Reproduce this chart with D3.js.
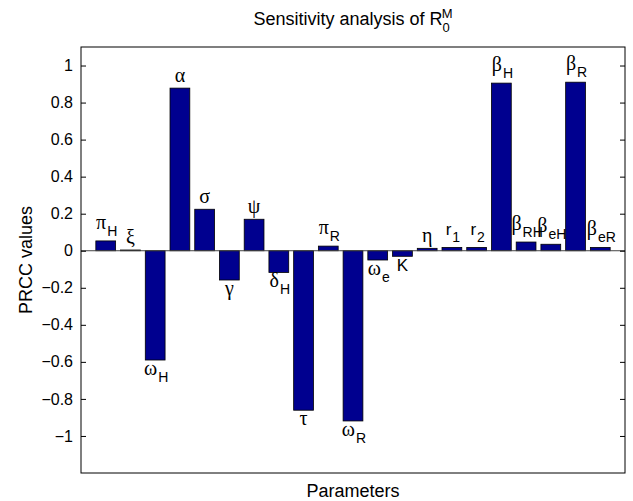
<!DOCTYPE html>
<html>
<head>
<meta charset="utf-8">
<script src="https://cdn.jsdelivr.net/npm/d3@7"></script>
<style>
  body { margin: 0; background: #fff; }
  text { font-family: "Liberation Sans", Arial, sans-serif; }
</style>
</head>
<body>
<div id="chart"></div>
<script>
// parameter symbols and subscripts
const symbols = ['π','ξ','ω','α','σ','γ','ψ','δ','τ','π','ω','ω','K','η','r','r','β','β','β','β','β'];
const subs    = ['H','','H','','','','','H','','R','R','e','','','1','2','H','RH','eH','R','eR'];
// PRCC values
const prcc = [0.053, 0.004, -0.59, 0.878, 0.224, -0.158, 0.17, -0.117, -0.861, 0.025, -0.919,
              -0.05, -0.03, 0.013, 0.018, 0.018, 0.905, 0.047, 0.035, 0.91, 0.018];
const yTicks = [-1, -0.8, -0.6, -0.4, -0.2, 0, 0.2, 0.4, 0.6, 0.8, 1];

var width = 633, height = 501;
var axLeft = 81, axRight = 625, axTop = 47, axBottom = 473;

var svg = d3.select('#chart').append('svg')
    .attr('width', width)
    .attr('height', height);

var xScale = d3.scaleLinear().domain([0, prcc.length + 1]).range([axLeft, axRight]);
var yScale = d3.scaleLinear().domain([-1.2, 1.1]).range([axBottom, axTop]);
var barW = (xScale(1) - xScale(0)) * 0.8;

// bars
svg.selectAll('rect.bar')
    .data(prcc)
    .enter().append('rect')
    .attr('class', 'bar')
    .attr('x', (d, i) => xScale(i + 1) - barW / 2)
    .attr('width', barW)
    .attr('y', d => yScale(Math.max(d, 0)))
    .attr('height', d => Math.abs(yScale(d) - yScale(0)))
    .attr('fill', '#00008f')
    .attr('stroke', '#000')
    .attr('stroke-width', 0.8);

// baseline
svg.append('line')
    .attr('x1', axLeft).attr('x2', axRight)
    .attr('y1', yScale(0)).attr('y2', yScale(0))
    .attr('stroke', '#444').attr('stroke-width', 1);

// axes (ticks inside the box, on both sides)
svg.append('g')
    .attr('transform', `translate(${axLeft},0)`)
    .call(d3.axisRight(yScale).tickValues(yTicks).tickSize(5).tickFormat(''))
    .call(g => g.select('.domain').remove());
svg.append('g')
    .attr('transform', `translate(${axRight},0)`)
    .call(d3.axisLeft(yScale).tickValues(yTicks).tickSize(5).tickFormat(''))
    .call(g => g.select('.domain').remove());

svg.selectAll('.tick line').attr('stroke', '#000');

svg.selectAll('text.ytick')
    .data(yTicks)
    .enter().append('text')
    .attr('class', 'ytick')
    .attr('x', axLeft - 8)
    .attr('y', d => yScale(d))
    .attr('dy', '0.35em')
    .attr('text-anchor', 'end')
    .style('font-size', '16px')
    .text(d => d3.format('')(d).replace('-', '\u2212'));

svg.append('rect')
    .attr('x', axLeft).attr('y', axTop)
    .attr('width', axRight - axLeft).attr('height', axBottom - axTop)
    .attr('fill', 'none')
    .attr('stroke', '#000')
    .attr('stroke-width', 1);

// parameter labels above / below each bar
var labels = svg.selectAll('text.plabel')
    .data(prcc)
    .enter().append('text')
    .attr('class', 'plabel')
    .attr('x', (d, i) => xScale(i + 1) + (subs[i] ? 1 : 0))
    .attr('y', (d, i) => d >= 0 ? yScale(d) - (subs[i] ? 12 : 6) : yScale(d) + 15)
    .attr('text-anchor', 'middle');

labels.append('tspan')
    .style('font-family', (d, i) => /[a-zA-Z]/.test(symbols[i]) ? '"Liberation Sans", Arial, sans-serif' : '"Liberation Serif", "Times New Roman", serif')
    .style('font-size', (d, i) => /[a-zA-Z]/.test(symbols[i]) ? '17px' : '20px')
    .text((d, i) => symbols[i]);

labels.append('tspan')
    .attr('dy', 7)
    .attr('dx', 1)
    .style('font-size', '14px')
    .text((d, i) => subs[i]);

// title and axis labels
var title = svg.append('text')
    .attr('x', (axLeft + axRight) / 2)
    .attr('y', 25)
    .attr('text-anchor', 'middle')
    .style('font-size', '18px');
title.append('tspan').text('Sensitivity analysis of R');
title.append('tspan').attr('dy', 7).style('font-size', '13px').text('0');
title.append('tspan').attr('dx', -8).attr('dy', -14).style('font-size', '13px').text('M');

svg.append('text')
    .attr('x', (axLeft + axRight) / 2)
    .attr('y', 497)
    .attr('text-anchor', 'middle')
    .style('font-size', '18px')
    .text('Parameters');

svg.append('text')
    .attr('transform', `translate(32,${(axTop + axBottom) / 2}) rotate(-90)`)
    .attr('text-anchor', 'middle')
    .style('font-size', '18px')
    .text('PRCC values');
</script>
</body>
</html>
